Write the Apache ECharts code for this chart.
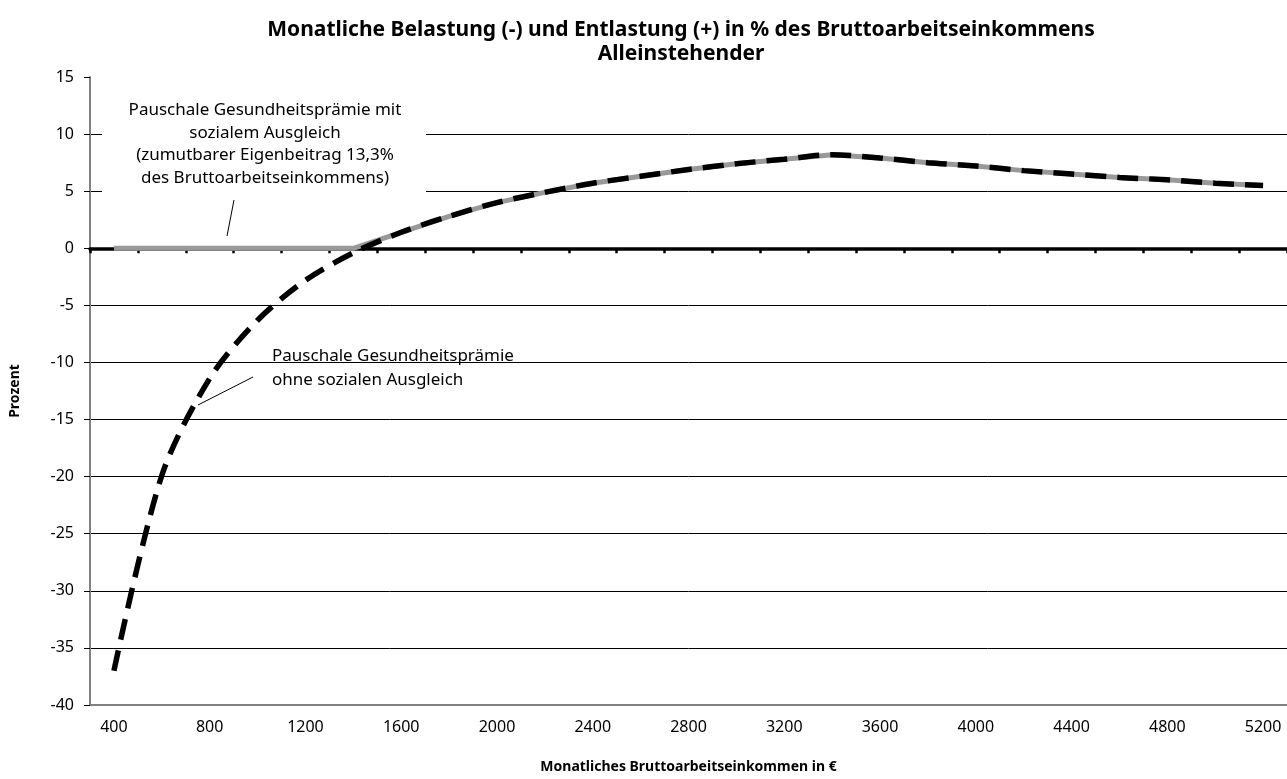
<!DOCTYPE html>
<html>
<head>
<meta charset="utf-8">
<title>Belastung und Entlastung</title>
<script src="https://cdn.jsdelivr.net/npm/echarts@6/dist/echarts.min.js"></script>
<style>
  html, body { margin: 0; padding: 0; background: #fff; }
  #chart { width: 1287px; height: 779px; }
</style>
</head>
<body>
<div id="chart"></div>
<script>
// Einkommen in € (Kategorien)
const incomes = ["400", "600", "800", "1000", "1200", "1400", "1600", "1800", "2000",
  "2200", "2400", "2600", "2800", "3000", "3200", "3400", "3600", "3800", "4000",
  "4200", "4400", "4600", "4800", "5000", "5200"];

// Pauschale Gesundheitsprämie ohne sozialen Ausgleich (schwarz, gestrichelt)
const ohneAusgleich = [-37.0, -19.9, -11.4, -6.3, -2.8, -0.4, 1.4, 2.8, 4.0, 4.9,
  5.7, 6.3, 6.9, 7.4, 7.8, 8.2, 7.9, 7.5, 7.2, 6.8, 6.5, 6.2, 6.0, 5.7, 5.5];

// mit sozialem Ausgleich (grau)
const mitAusgleich = [0, 0, 0, 0, 0, 0, 1.4, 2.8, 4.0, 4.9,
  5.7, 6.3, 6.9, 7.4, 7.8, 8.2, 7.9, 7.5, 7.2, 6.8, 6.5, 6.2, 6.0, 5.7, 5.5];

const yTicks = { min: -40, max: 15, step: 5 };

const font = "Noto Sans";
const chart = echarts.init(document.getElementById("chart"));

chart.setOption({
  animation: false,
  title: {
    text: "Monatliche Belastung (-) und Entlastung (+) in % des Bruttoarbeitseinkommens\nAlleinstehender",
    left: 676,
    top: 13,
    textAlign: "center",
    textStyle: { fontFamily: font, fontSize: 21, fontWeight: "bold", color: "#000", lineHeight: 24 }
  },
  grid: { left: 88, right: 0, top: 77, bottom: 70 },
  xAxis: [
    {
      // Nulllinie mit Teilstrichen
      type: "category",
      data: incomes,
      boundaryGap: true,
      axisLine: { onZero: true, lineStyle: { color: "#000", width: 3.5 } },
      axisTick: { show: true, interval: 0, length: 5, lineStyle: { color: "#000", width: 2.5 } },
      axisLabel: { show: false }
    },
    {
      // untere Achse mit Beschriftung
      type: "category",
      data: incomes,
      boundaryGap: true,
      position: "bottom",
      axisLine: { onZero: false, lineStyle: { color: "#808080", width: 2 } },
      axisTick: { show: false },
      axisLabel: { interval: 1, margin: 14, fontFamily: font, fontSize: 16, color: "#000" },
      name: "Monatliches Bruttoarbeitseinkommen in €",
      nameLocation: "middle",
      nameGap: 55,
      nameTextStyle: { fontFamily: font, fontSize: 14, fontWeight: "bold", color: "#000" }
    }
  ],
  yAxis: {
    type: "value",
    min: yTicks.min,
    max: yTicks.max,
    interval: yTicks.step,
    axisLine: { show: true, lineStyle: { color: "#808080", width: 2 } },
    axisTick: { show: true, length: 6, lineStyle: { color: "#000", width: 1 } },
    axisLabel: { margin: 16, fontFamily: font, fontSize: 16, color: "#000" },
    splitLine: { show: true, showMinLine: false, showMaxLine: false, lineStyle: { color: "#000", width: 1 } },
    name: "Prozent",
    nameLocation: "middle",
    nameGap: 68,
    nameRotate: 90,
    nameTextStyle: { fontFamily: font, fontSize: 14, fontWeight: "bold", color: "#000" }
  },
  series: [
    {
      name: "mit sozialem Ausgleich",
      type: "line",
      data: mitAusgleich,
      symbol: "none",
      lineStyle: { color: "#999999", width: 5 },
      z: 3
    },
    {
      name: "ohne sozialen Ausgleich",
      type: "line",
      data: ohneAusgleich,
      symbol: "none",
      smooth: 0.3,
      lineStyle: { color: "#000", width: 5.5, type: [21, 11], cap: "butt" },
      z: 4
    }
  ],
  graphic: [
    {
      type: "rect",
      shape: { x: 102, y: 92, width: 324, height: 105 },
      style: { fill: "#fff" },
      z: 10
    },
    {
      type: "text",
      x: 265,
      y: 99,
      style: {
        text: "Pauschale Gesundheitsprämie mit\nsozialem Ausgleich\n(zumutbarer Eigenbeitrag 13,3%\ndes Bruttoarbeitseinkommens)",
        fontFamily: font, fontSize: 17, lineHeight: 22.5, fill: "#000", align: "center"
      },
      z: 11
    },
    {
      type: "line",
      shape: { x1: 234, y1: 200, x2: 227, y2: 236 },
      style: { stroke: "#000", lineWidth: 1 },
      z: 11
    },
    {
      type: "text",
      x: 272,
      y: 344,
      style: {
        text: "Pauschale Gesundheitsprämie\nohne sozialen Ausgleich",
        fontFamily: font, fontSize: 17, lineHeight: 24, fill: "#000", align: "left"
      },
      z: 11
    },
    {
      type: "line",
      shape: { x1: 253, y1: 377, x2: 198, y2: 405 },
      style: { stroke: "#000", lineWidth: 1 },
      z: 11
    }
  ]
});

window.addEventListener("resize", () => chart.resize());
</script>
</body>
</html>
